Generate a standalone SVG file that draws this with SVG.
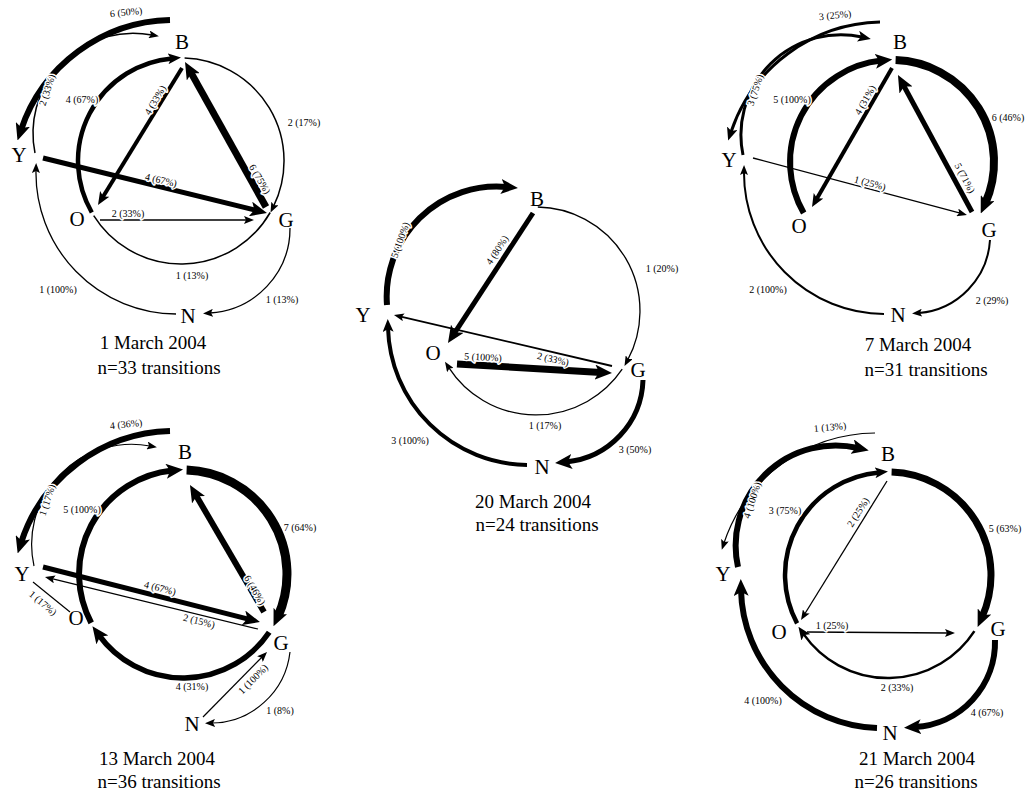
<svg xmlns="http://www.w3.org/2000/svg" width="1026" height="794" viewBox="0 0 1026 794">
<style>
.e{fill:none;stroke:#000;stroke-linecap:butt}
text{font-family:"Liberation Serif","Times New Roman",serif;fill:#000;text-anchor:middle}
.l{font-size:10px;paint-order:stroke;stroke:#fff;stroke-width:3px;stroke-linejoin:round}
.n{font-size:21px}
.c{font-size:19px}
</style>
<defs>
<marker id="as" markerUnits="userSpaceOnUse" markerWidth="10" markerHeight="8" refX="3" refY="4" orient="auto"><path d="M0,0 L10,4 L0,8 L2,4 z"/></marker>
<marker id="am" markerUnits="userSpaceOnUse" markerWidth="13" markerHeight="11" refX="4" refY="5.5" orient="auto"><path d="M0,0 L13,5.5 L0,11 L3,5.5 z"/></marker>
<marker id="al" markerUnits="userSpaceOnUse" markerWidth="17" markerHeight="15" refX="6" refY="7.5" orient="auto"><path d="M0,0 L17,7.5 L0,15 L4,7.5 z"/></marker>
</defs>
<rect width="1026" height="794" fill="#fff"/>

<!-- Panel 1: 1 March 2004 -->
<g id="p1-B"><text class="n" x="182" y="49">B</text></g>
<g id="p1-Y"><text class="n" x="19" y="162">Y</text></g>
<g id="p1-O"><text class="n" x="77" y="226">O</text></g>
<g id="p1-G"><text class="n" x="286" y="227">G</text></g>
<g id="p1-N"><text class="n" x="188" y="323">N</text></g>
<g id="p1-caption"><text class="c" x="153" y="349">1 March 2004</text><text class="c" x="159" y="374">n=33 transitions</text></g>
<g id="p1-connectors">
<path class="e" d="M91.8,212.5 A103,103 0 0 1 172,58.4" stroke-width="4.5" marker-end="url(#am)"/>
<path class="e" d="M184.6,58.1 A103,103 0 0 1 273.6,206.2" stroke-width="1.5" marker-end="url(#as)"/>
<path class="e" d="M270.2,212.5 A103,103 0 0 1 93.7,215.6" stroke-width="1.5"/>
<path class="e" d="M182,68 L102.7,197.3" stroke-width="4" marker-end="url(#am)"/>
<path class="e" d="M266,207 L190.4,71.6" stroke-width="7" marker-end="url(#al)"/>
<path class="e" d="M43,158 L256.3,210.4" stroke-width="5" marker-end="url(#al)"/>
<path class="e" d="M100,220 L247,220" stroke-width="1.5" marker-end="url(#as)"/>
<path class="e" d="M170,20 A161,161 0 0 0 21,130" stroke-width="6" marker-end="url(#al)"/>
<path class="e" d="M35,153 A100,100 0 0 1 152,35" stroke-width="1.5" marker-end="url(#as)"/>
<path class="e" d="M176,314 A141,141 0 0 1 36,170" stroke-width="1.3" marker-end="url(#as)"/>
<path class="e" d="M290,228 A85,85 0 0 1 210,313" stroke-width="1.3" marker-end="url(#as)"/>
<text class="l" transform="translate(126,12) rotate(-6)" y="3.5">6 (50%)</text>
<text class="l" transform="translate(47,90) rotate(-72)" y="3.5">2 (33%)</text>
<text class="l" x="82" y="102.5">4 (67%)</text>
<text class="l" transform="translate(155,100) rotate(-59)" y="3.5">4 (33%)</text>
<text class="l" x="304" y="125.5">2 (17%)</text>
<text class="l" transform="translate(260,179) rotate(60)" y="3.5">6 (75%)</text>
<text class="l" transform="translate(161,180) rotate(13)" y="3.5">4 (67%)</text>
<text class="l" x="128" y="216.5">2 (33%)</text>
<text class="l" x="192" y="278.5">1 (13%)</text>
<text class="l" x="58" y="292.5">1 (100%)</text>
<text class="l" x="282" y="302.5">1 (13%)</text>
</g>

<!-- Panel 2: 20 March 2004 -->
<g id="p2-B"><text class="n" x="537" y="206">B</text></g>
<g id="p2-Y"><text class="n" x="363" y="322">Y</text></g>
<g id="p2-O"><text class="n" x="433" y="360">O</text></g>
<g id="p2-G"><text class="n" x="638" y="377">G</text></g>
<g id="p2-N"><text class="n" x="542" y="474">N</text></g>
<g id="p2-caption"><text class="c" x="533" y="508">20 March 2004</text><text class="c" x="537" y="531">n=24 transitions</text></g>
<g id="p2-connectors">
<path class="e" d="M537.8,207 A104,104 0 0 1 627.8,359.8" stroke-width="1.3" marker-end="url(#as)"/>
<path class="e" d="M622.2,369.2 A104,104 0 0 1 448.8,367.6" stroke-width="1.3" marker-end="url(#as)"/>
<path class="e" d="M533,213 L454,333.8" stroke-width="5" marker-end="url(#al)"/>
<path class="e" d="M612,366 L400.8,316.6" stroke-width="1.8" marker-end="url(#as)"/>
<path class="e" d="M457,364 L601,372.4" stroke-width="7" marker-end="url(#al)"/>
<path class="e" d="M387,305 A110,110 0 0 1 507,187" stroke-width="6" marker-end="url(#al)"/>
<path class="e" d="M527,465 A141,141 0 0 1 388,328" stroke-width="4" marker-end="url(#am)"/>
<path class="e" d="M643,380 A85,85 0 0 1 566,462" stroke-width="5" marker-end="url(#al)"/>
<text class="l" transform="translate(400,240) rotate(-70)" y="3.5">5 (100%)</text>
<text class="l" transform="translate(497,250) rotate(-57)" y="3.5">4 (80%)</text>
<text class="l" x="662" y="271.5">1 (20%)</text>
<text class="l" transform="translate(553,359) rotate(13)" y="3.5">2 (33%)</text>
<text class="l" transform="translate(483,357) rotate(3)" y="3.5">5 (100%)</text>
<text class="l" x="545" y="428.5">1 (17%)</text>
<text class="l" x="410" y="443.5">3 (100%)</text>
<text class="l" x="635" y="452.5">3 (50%)</text>
</g>

<!-- Panel 3: 7 March 2004 -->
<g id="p3-B"><text class="n" x="900" y="49">B</text></g>
<g id="p3-Y"><text class="n" x="729" y="167">Y</text></g>
<g id="p3-O"><text class="n" x="799" y="233">O</text></g>
<g id="p3-G"><text class="n" x="989" y="237">G</text></g>
<g id="p3-N"><text class="n" x="898" y="322">N</text></g>
<g id="p3-caption"><text class="c" x="918" y="351">7 March 2004</text><text class="c" x="926" y="376">n=31 transitions</text></g>
<g id="p3-connectors">
<path class="e" d="M803.7,213 A102,102 0 0 1 881.3,60.6" stroke-width="6" marker-end="url(#al)"/>
<path class="e" d="M895.6,60.1 A102,102 0 0 1 985.2,203.5" stroke-width="8" marker-end="url(#al)"/>
<path class="e" d="M892,68 L816.5,199.2" stroke-width="4" marker-end="url(#am)"/>
<path class="e" d="M972,212 L903.2,84.7" stroke-width="5" marker-end="url(#al)"/>
<path class="e" d="M753,158 L960.2,213.2" stroke-width="1.3" marker-end="url(#as)"/>
<path class="e" d="M880,22 A161,161 0 0 0 731,132" stroke-width="3" marker-end="url(#am)"/>
<path class="e" d="M743,155 A100,100 0 0 1 862,37" stroke-width="3" marker-end="url(#am)"/>
<path class="e" d="M884,314 A141,141 0 0 1 744,172" stroke-width="2" marker-end="url(#as)"/>
<path class="e" d="M990,240 A78,78 0 0 1 919,313" stroke-width="2" marker-end="url(#as)"/>
<text class="l" transform="translate(835,15) rotate(-6)" y="3.5">3 (25%)</text>
<text class="l" transform="translate(755,90) rotate(-72)" y="3.5">3 (75%)</text>
<text class="l" x="792" y="102.5">5 (100%)</text>
<text class="l" transform="translate(865,100) rotate(-60)" y="3.5">4 (31%)</text>
<text class="l" x="1008" y="120.5">6 (46%)</text>
<text class="l" transform="translate(965,178) rotate(62)" y="3.5">5 (71%)</text>
<text class="l" transform="translate(870,183) rotate(15)" y="3.5">1 (25%)</text>
<text class="l" x="768" y="292.5">2 (100%)</text>
<text class="l" x="992" y="303.5">2 (29%)</text>
</g>

<!-- Panel 4: 13 March 2004 -->
<g id="p4-B"><text class="n" x="185" y="459">B</text></g>
<g id="p4-Y"><text class="n" x="22" y="581">Y</text></g>
<g id="p4-O"><text class="n" x="76" y="625">O</text></g>
<g id="p4-G"><text class="n" x="281" y="650">G</text></g>
<g id="p4-N"><text class="n" x="192" y="731">N</text></g>
<g id="p4-caption"><text class="c" x="157" y="765">13 March 2004</text><text class="c" x="159" y="788">n=36 transitions</text></g>
<g id="p4-connectors">
<path class="e" d="M91.2,622.8 A104,104 0 0 1 172.1,470.6" stroke-width="6" marker-end="url(#al)"/>
<path class="e" d="M186.6,470.1 A104,104 0 0 1 278,616.3" stroke-width="9" marker-end="url(#al)"/>
<path class="e" d="M269.2,632.2 A104,104 0 0 1 98.9,635.1" stroke-width="5.5" marker-end="url(#al)"/>
<path class="e" d="M264,612 L195.5,494.5" stroke-width="6" marker-end="url(#al)"/>
<path class="e" d="M43,567 L249.3,619.3" stroke-width="5" marker-end="url(#al)"/>
<path class="e" d="M258,629 L51.8,578.7" stroke-width="1.2" marker-end="url(#as)"/>
<path class="e" d="M33,582 L70,612" stroke-width="1.2"/>
<path class="e" d="M203,717 L262.1,657" stroke-width="1.2" marker-end="url(#as)"/>
<path class="e" d="M170,431 A161,161 0 0 0 21,543" stroke-width="6" marker-end="url(#al)"/>
<path class="e" d="M34,566 A100,100 0 0 1 150,446" stroke-width="1.2" marker-end="url(#as)"/>
<path class="e" d="M290,652 A80,80 0 0 1 212,723" stroke-width="1.2" marker-end="url(#as)"/>
<text class="l" transform="translate(126,424) rotate(-6)" y="3.5">4 (36%)</text>
<text class="l" transform="translate(47,500) rotate(-72)" y="3.5">1 (17%)</text>
<text class="l" x="82" y="512.5">5 (100%)</text>
<text class="l" x="300" y="530.5">7 (64%)</text>
<text class="l" transform="translate(255,590) rotate(60)" y="3.5">6 (46%)</text>
<text class="l" transform="translate(160,588) rotate(14)" y="3.5">4 (67%)</text>
<text class="l" transform="translate(199,621) rotate(14)" y="3.5">2 (15%)</text>
<text class="l" transform="translate(43,603) rotate(40)" y="3.5">1 (17%)</text>
<text class="l" x="192" y="689.5">4 (31%)</text>
<text class="l" transform="translate(253,679) rotate(-45)" y="3.5">1 (100%)</text>
<text class="l" x="280" y="713.5">1 (8%)</text>
</g>

<!-- Panel 5: 21 March 2004 -->
<g id="p5-B"><text class="n" x="888" y="461">B</text></g>
<g id="p5-Y"><text class="n" x="723" y="581">Y</text></g>
<g id="p5-O"><text class="n" x="779" y="639">O</text></g>
<g id="p5-G"><text class="n" x="998" y="636">G</text></g>
<g id="p5-N"><text class="n" x="890" y="740">N</text></g>
<g id="p5-caption"><text class="c" x="917" y="765">21 March 2004</text><text class="c" x="916" y="788">n=26 transitions</text></g>
<g id="p5-connectors">
<path class="e" d="M797.1,623.4 A103,103 0 0 1 879,472.4" stroke-width="4.5" marker-end="url(#am)"/>
<path class="e" d="M891.6,472.1 A103,103 0 0 1 982.1,616.9" stroke-width="7" marker-end="url(#al)"/>
<path class="e" d="M974.4,631.1 A103,103 0 0 1 803.6,634.1" stroke-width="2.5" marker-end="url(#am)"/>
<path class="e" d="M887,481 L804.7,614" stroke-width="1.3" marker-end="url(#as)"/>
<path class="e" d="M807,632 L948,633" stroke-width="1.3" marker-end="url(#as)"/>
<path class="e" d="M875,433 A161,161 0 0 0 724,543" stroke-width="1.2" marker-end="url(#as)"/>
<path class="e" d="M738,567 A100,100 0 0 1 858,448" stroke-width="6" marker-end="url(#al)"/>
<path class="e" d="M877,728 A141,141 0 0 1 741,590" stroke-width="6" marker-end="url(#al)"/>
<path class="e" d="M995,640 A85,85 0 0 1 915,727" stroke-width="6" marker-end="url(#al)"/>
<text class="l" transform="translate(830,427) rotate(-5)" y="3.5">1 (13%)</text>
<text class="l" transform="translate(752,500) rotate(-72)" y="3.5">4 (100%)</text>
<text class="l" x="785" y="513.5">3 (75%)</text>
<text class="l" transform="translate(858,512) rotate(-58)" y="3.5">2 (25%)</text>
<text class="l" x="1005" y="531.5">5 (63%)</text>
<text class="l" x="832" y="628.5">1 (25%)</text>
<text class="l" x="897" y="690.5">2 (33%)</text>
<text class="l" x="763" y="703.5">4 (100%)</text>
<text class="l" x="987" y="715.5">4 (67%)</text>
</g>
</svg>
